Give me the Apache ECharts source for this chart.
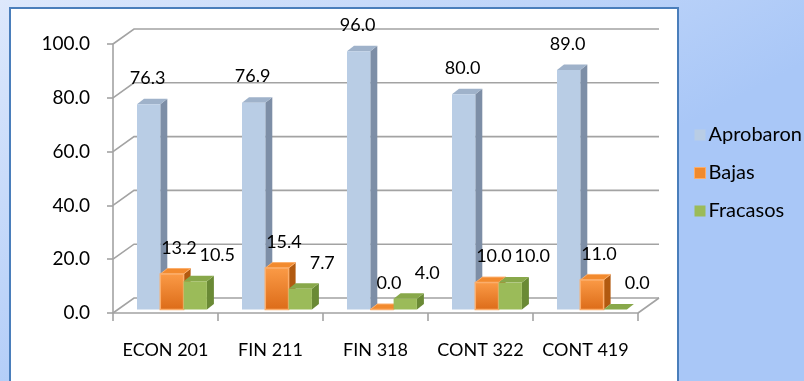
<!DOCTYPE html>
<html>
<head>
<meta charset="utf-8">
<script src="https://cdn.jsdelivr.net/npm/echarts@6/dist/echarts.min.js"></script>
<style>
  html, body { margin: 0; padding: 0; }
  #chart { width: 804px; height: 381px; }
</style>
</head>
<body>
<div id="chart"></div>
<script>
// Course results per subject (percent of students)
const categories = ['ECON 201', 'FIN 211', 'FIN 318', 'CONT 322', 'CONT 419'];
const seriesNames = ['Aprobaron', 'Bajas', 'Fracasos'];
const aprobaron = [76.3, 76.9, 96.0, 80.0, 89.0];
const bajas = [13.2, 15.4, 0.0, 10.0, 11.0];
const fracasos = [10.5, 7.7, 4.0, 10.0, 0.0];
const yTicks = [0, 20, 40, 60, 80, 100];
const titleText = 'Porciento de Aprobados, Bajas y Fracasos (Verano 2010)';

const FONT = 'Lato, "Open Sans", sans-serif';

// 3D look: depth of the walls and of each column
const WALL_DX = 21, WALL_DY = -15;
const BAR_DX = 7, BAR_DY = -5.5;
const FRONT_DX = 0, FRONT_DY = -3.5;
const LEAD = 24 / 105, BAR_FRAC = 23.3 / 105;

const palette = [
  { front: '#b9cde5', top: '#9fb2ca', side: '#7d8ea6', stroke: null, labelDX: -1 },
  { front: { type: 'linear', x: 0, y: 0, x2: 0, y2: 1,
      colorStops: [{ offset: 0, color: '#fb9b47' }, { offset: 1, color: '#dc6b18' }] },
    top: '#f28a2e', side: '#b25a10', stroke: '#fbae6c', labelDX: 7 },
  { front: '#9bbb59', top: '#88a84a', side: '#6a8a35', stroke: null, labelDX: 22 }
];

function barRenderer(si) {
  const c = palette[si];
  return function (params, api) {
    const i = api.value(0), v = api.value(1);
    const base = api.coord([i, 0]);
    const top = api.coord([i, v]);
    const band = api.size([1, 0])[0];
    const x0 = base[0] - band / 2;
    const bw = band * BAR_FRAC;
    const left = x0 + band * LEAD + si * bw + FRONT_DX;
    const yb = base[1] + FRONT_DY;
    const yt = top[1] + FRONT_DY;
    const children = [
      { type: 'polygon', shape: { points: [[left + bw, yt], [left + bw + BAR_DX, yt + BAR_DY], [left + bw + BAR_DX, yb + BAR_DY], [left + bw, yb]] },
        style: { fill: c.side } },
      { type: 'polygon', shape: { points: [[left, yt], [left + BAR_DX, yt + BAR_DY], [left + bw + BAR_DX, yt + BAR_DY], [left + bw, yt]] },
        style: { fill: c.top, stroke: c.stroke, lineWidth: c.stroke ? 1 : 0 } },
      { type: 'rect', shape: { x: left, y: yt, width: bw, height: Math.max(yb - yt, 0) },
        style: { fill: c.front, stroke: c.stroke, lineWidth: c.stroke ? 1.5 : 0 } },
      { type: 'text', x: left + bw / 2 + c.labelDX, y: yt - 26, z2: 10,
        style: { text: v.toFixed(1), fill: '#000', fontSize: 18, fontFamily: FONT, align: 'center', verticalAlign: 'middle' } }
    ];
    return { type: 'group', children: children };
  };
}

function wallRenderer(params, api) {
  const v = api.value(1);
  const p = api.coord([0, v]);
  const band = api.size([1, 0])[0];
  const xL = p[0] - band / 2;
  const xR = xL + band * categories.length;
  const y = p[1];
  const children = [
    { type: 'polyline', shape: { points: [[xL, y], [xL + WALL_DX, y + WALL_DY], [xR + WALL_DX, y + WALL_DY]] },
      style: { stroke: '#a3a3a3', lineWidth: 1.6, fill: null } }
  ];
  if (v === 0) {
    children.push({ type: 'line', shape: { x1: xR, y1: y, x2: xR + WALL_DX, y2: y + WALL_DY },
      style: { stroke: '#a3a3a3', lineWidth: 1.6 } });
  }
  return { type: 'group', children: children };
}

const values = [aprobaron, bajas, fracasos];
const series = [
  { type: 'custom', name: '_walls', renderItem: wallRenderer, silent: true, z: 1,
    data: yTicks.map(v => [0, v]) }
].concat(seriesNames.map((name, si) => ({
  type: 'custom',
  name: name,
  z: 3 + si,
  renderItem: barRenderer(si),
  itemStyle: { color: si === 1 ? '#f79646' : palette[si].front },
  data: values[si].map((v, i) => [i, v])
})));

const chart = echarts.init(document.getElementById('chart'), null, { renderer: 'canvas' });
chart.setOption({
  animation: false,
  backgroundColor: { type: 'linear', x: 0, y: 0, x2: 0.25, y2: 1,
    colorStops: [{ offset: 0, color: '#dde8fc' }, { offset: 1, color: '#a9c7f7' }] },
  graphic: [
    { type: 'rect', z: -1, zlevel: 0, shape: { x: 10, y: 8, width: 668, height: 420 },
      style: { fill: '#ffffff', stroke: '#4a7ebb', lineWidth: 2 } },
    { type: 'text', z: -1, x: 658, y: -12,
      style: { text: titleText, fill: '#000', fontSize: 24, fontWeight: 'bold', fontFamily: FONT, align: 'right', verticalAlign: 'middle' } }
  ],
  grid: { left: 113, right: 166, top: 44, bottom: 68, containLabel: false },
  legend: {
    data: [
      { name: 'Aprobaron', itemStyle: { color: '#b9cde5' } },
      { name: 'Bajas', itemStyle: { color: '#f08a2e', borderColor: '#fbae6c', borderWidth: 1 } },
      { name: 'Fracasos', itemStyle: { color: '#9bbb59' } }
    ],
    orient: 'vertical', left: 689, top: 120,
    icon: 'rect', itemWidth: 11, itemHeight: 11, itemGap: 18,
    textStyle: { fontSize: 20, fontFamily: FONT, color: '#000', lineHeight: 20, padding: [0, 0, 0, -2] }
  },
  xAxis: {
    type: 'category', data: categories,
    axisLine: { show: true, lineStyle: { color: '#a3a3a3', width: 1.6 } },
    axisTick: { show: true, length: 8, lineStyle: { color: '#a3a3a3', width: 1.6 } },
    axisLabel: { fontSize: 18, fontFamily: FONT, color: '#000', margin: 28, interval: 0 },
    splitLine: { show: false }
  },
  yAxis: {
    type: 'value', min: 0, max: 100, interval: 20,
    axisLine: { show: true, lineStyle: { color: '#a3a3a3', width: 1.6 } },
    axisTick: { show: true, length: 6, lineStyle: { color: '#a3a3a3', width: 1.6 } },
    axisLabel: { fontSize: 19, fontFamily: FONT, color: '#000', margin: 23, formatter: v => v.toFixed(1) },
    splitLine: { show: false }
  },
  series: series
});
</script>
</body>
</html>
